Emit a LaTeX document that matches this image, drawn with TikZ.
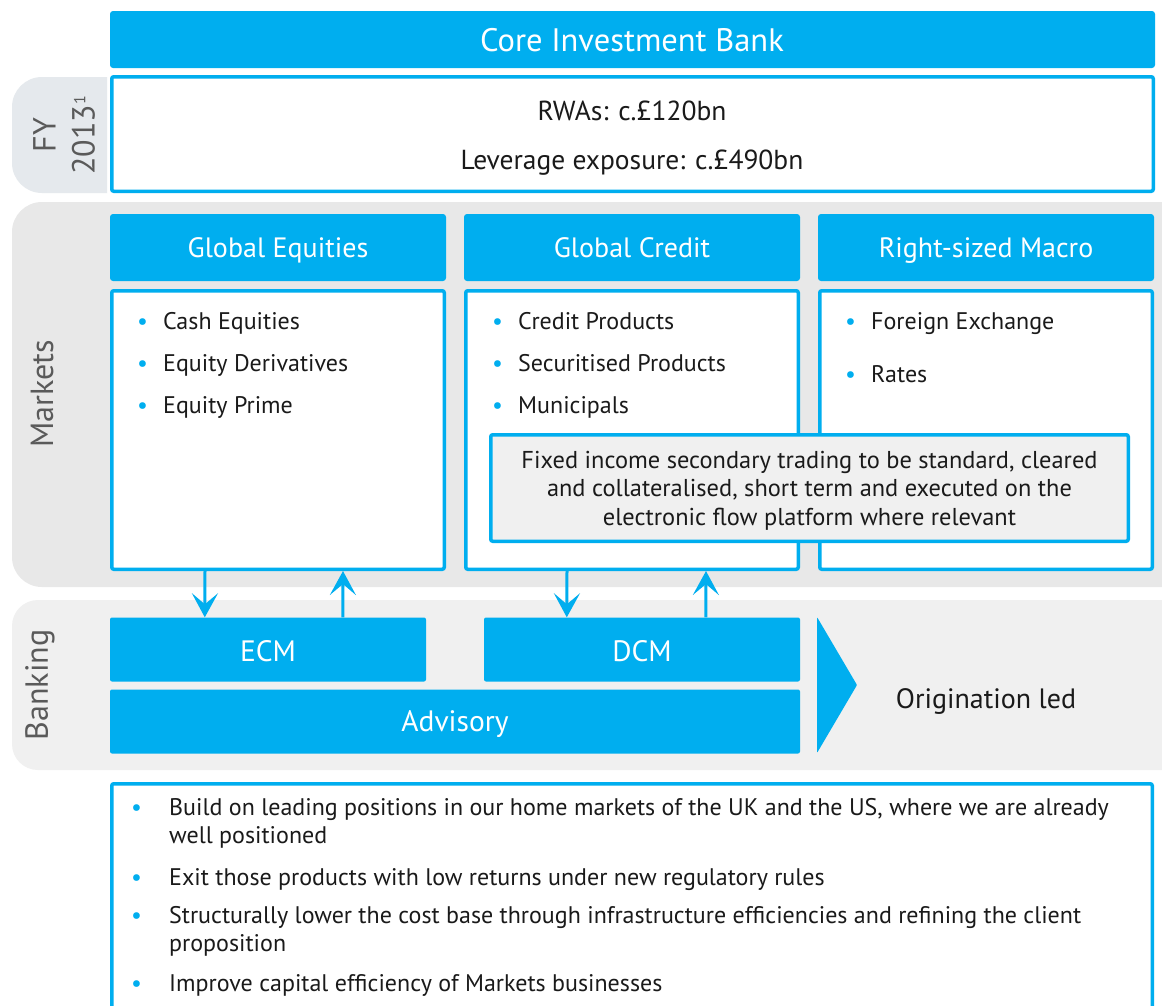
\documentclass[tikz,border=0pt]{standalone}
\usepackage{fontspec}
\setmainfont{PT Sans}
\usetikzlibrary{arrows.meta}
\definecolor{bblue}{HTML}{00AEEF}
\definecolor{mkgray}{HTML}{E8E8E8}
\definecolor{bkgray}{HTML}{F0F0F0}
\definecolor{fygray}{HTML}{E5E9ED}
\definecolor{lblgray}{HTML}{5A5A5A}
\definecolor{txtc}{HTML}{1A1A1A}
\newcommand{\fsz}[2]{\fontsize{#1}{#2}\selectfont}
\newcommand{\bulA}{\makebox[26pt][l]{\textcolor{bblue}{•}}}
\newcommand{\bulB}{\makebox[38pt][l]{\textcolor{bblue}{•}}}
\begin{document}
\begin{tikzpicture}[x=1pt,y=-1pt,
  hdr/.style={fill=bblue, text=white, rounded corners=3pt, inner sep=0pt},
  hdrtxt/.style={text=white, font=\fsz{28}{32}, inner sep=0pt, anchor=base},
  bluebox/.style={fill=bblue, text=white, rounded corners=2pt, inner sep=0pt, font=\fsz{29.5}{32}},
  outl/.style={draw=bblue, line width=3.5pt, fill=white, rounded corners=2pt, inner sep=0pt},
  body/.style={text=txtc, font=\fsz{24}{28}, inner sep=0pt},
  bodyB/.style={text=txtc, font=\fsz{24}{28}, inner sep=0pt},
  lbl/.style={text=lblgray, font=\fsz{32}{39}, inner sep=0pt, rotate=90, align=center},
  arr/.style={draw=bblue, line width=3pt, -{Stealth[length=24pt, width=26pt, inset=11pt]}}
]
\useasboundingbox (0,0) rectangle (1162,1005);
\fill[white] (0,0) rectangle (1162,1005);
\begin{scope}
\clip (0,0) rectangle (1162,1005);
% background bands
\begin{scope}
\clip (0,0) rectangle (107,1005);
\fill[fygray, rounded corners=30pt] (12,77) rectangle (200,193);
\end{scope}
\fill[mkgray, rounded corners=30pt] (12,202) rectangle (1200,587);
\fill[bkgray, rounded corners=26pt] (12,600) rectangle (1200,770);
% bottom box
\draw[bblue, line width=3.5pt, rounded corners=2pt] (111.75,783.75) rectangle (1152.25,1040);
\end{scope}

% side labels
\node[lbl] (fy) at (64,135) {FY\\2013\textsuperscript{\fsz{16}{16}1}};
\node[lbl] (mk) at (42,394) {Markets};
\node[lbl] (bk) at (40,685) {Banking};

% top
\node[hdr, minimum width=1045pt, minimum height=57pt] (core) at (632.5,39.5) {};
\node[hdrtxt, font=\fsz{32.5}{36}] (coret) at (632,51) {Core Investment Bank};
\node[outl, minimum width=1041.5pt, minimum height=114.5pt] (fybox) at (632.5,134) {};
\node[body, font=\fsz{27.5}{30}, anchor=base] (rwa) at (632,120.5) {RWAs: c.£120bn};
\node[body, font=\fsz{27.5}{30}, anchor=base] (lev) at (632,169.5) {Leverage exposure: c.£490bn};

% headers
\node[hdr, minimum width=336pt, minimum height=67pt] (ge) at (278,247.5) {};
\node[hdr, minimum width=336pt, minimum height=67pt] (gc) at (632,247.5) {};
\node[hdr, minimum width=336pt, minimum height=67pt] (rm) at (986,247.5) {};
\node[hdrtxt] (get) at (278,257.5) {Global Equities};
\node[hdrtxt] (gct) at (632,257.5) {Global Credit};
\node[hdrtxt] (rmt) at (986,257.5) {Right-sized Macro};

% content boxes
\node[outl, minimum width=332.5pt, minimum height=278.5pt] (geb) at (278,430) {};
\node[outl, minimum width=332.5pt, minimum height=278.5pt] (gcb) at (632,430) {};
\node[outl, minimum width=332.5pt, minimum height=278.5pt] (rmb) at (986,430) {};

\node[body, anchor=base west] (ge1) at (137,329.5) {\bulA Cash Equities};
\node[body, anchor=base west] (ge2) at (137,371.5) {\bulA Equity Derivatives};
\node[body, anchor=base west] (ge3) at (137,413.5) {\bulA Equity Prime};
\node[body, anchor=base west] (gc1) at (492,329.5) {\bulA Credit Products};
\node[body, anchor=base west] (gc2) at (492,371.5) {\bulA Securitised Products};
\node[body, anchor=base west] (gc3) at (492,413.5) {\bulA Municipals};
\node[body, anchor=base west] (rm1) at (845,329.5) {\bulA Foreign Exchange};
\node[body, anchor=base west] (rm2) at (845,382.5) {\bulA Rates};

% fixed income box
\node[draw=bblue, line width=3.5pt, fill=bkgray, rounded corners=2pt, minimum width=637.5pt, minimum height=106.5pt,
      inner sep=0pt] (fi) at (809.5,488) {};
\node[text=txtc, font=\fsz{24.4}{28.5}, align=center, inner sep=0pt] (fit) at (809.5,490.5)
  {Fixed income secondary trading to be standard, cleared\\and collateralised, short term and executed on the\\electronic flow platform where relevant};

% banking
\node[bluebox, minimum width=316pt, minimum height=64pt] (ecm) at (268,649.5) {};
\node[bluebox, minimum width=316pt, minimum height=64pt] (dcm) at (642,649.5) {};
\node[bluebox, minimum width=690pt, minimum height=64pt] (adv) at (455,721.5) {};
\node[hdrtxt, font=\fsz{29.5}{32}] (ecmt) at (268,661) {ECM};
\node[hdrtxt, font=\fsz{29.5}{32}] (dcmt) at (642,661) {DCM};
\node[hdrtxt, font=\fsz{29.5}{32}] (advt) at (455,731.5) {Advisory};
\fill[bblue, rounded corners=1pt] (817,617) -- (857,685) -- (817,753) -- cycle;
\node[text=txtc, font=\fsz{28}{30}, inner sep=0pt, anchor=base] (orig) at (986,708) {Origination led};

% arrows
\draw[arr] ([xshift=95pt]geb.south west) -- ([xshift=95pt]ecm.north west);
\draw[arr] ([xshift=233pt]ecm.north west) -- ([xshift=233pt]geb.south west);
\draw[arr] ([xshift=103pt]gcb.south west) -- ([xshift=83pt]dcm.north west);
\draw[arr] ([xshift=222pt]dcm.north west) -- ([xshift=242pt]gcb.south west);

% bottom bullets
\node[bodyB, anchor=base west] (b1) at (131,815) {\bulB Build on leading positions in our home markets of the UK and the US, where we are already};
\node[bodyB, anchor=base west] (b1b) at (169,843) {well positioned};
\node[bodyB, anchor=base west] (b2) at (131,885) {\bulB Exit those products with low returns under new regulatory rules};
\node[bodyB, anchor=base west] (b3) at (131,923) {\bulB Structurally lower the cost base through infrastructure efficiencies and refining the client};
\node[bodyB, anchor=base west] (b3b) at (169,951) {proposition};
\node[bodyB, anchor=base west] (b4) at (131,991) {\bulB Improve capital efficiency of Markets businesses};
\end{tikzpicture}
\end{document}
